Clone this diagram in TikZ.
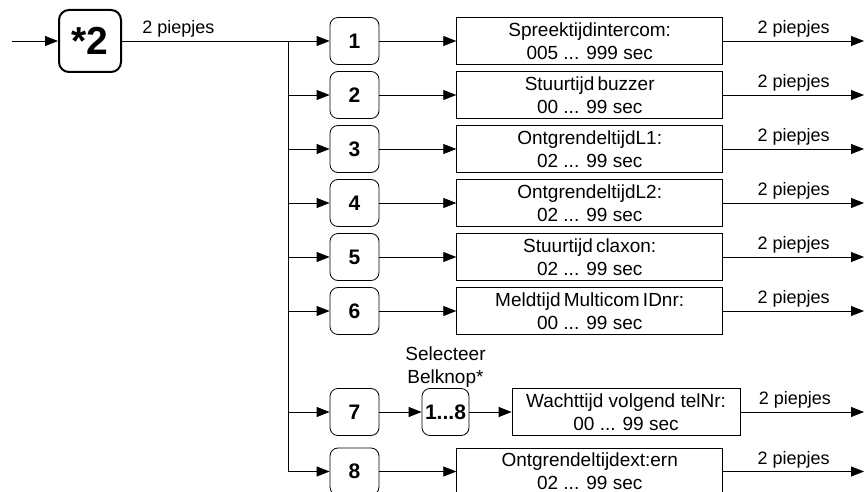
\documentclass[tikz,border=0pt]{standalone}
\usepackage{fontspec}
\setmainfont{Liberation Sans}
\usetikzlibrary{positioning,arrows.meta}

\begin{document}
\begin{tikzpicture}[x=1pt, y=-1pt, line width=0.8pt, >={Triangle[length=13pt,width=10pt]}]
                \tikzset{knop/.style={draw, rounded corners=8pt, minimum width=49pt, minimum height=47pt, inner sep=0pt, font=\fontsize{21}{24}\selectfont\bfseries},
                         tijd/.style={draw, minimum width=266pt, minimum height=47pt, inner sep=0pt, align=center, font=\fontsize{19}{23}\selectfont},
                         piep/.style={above=1pt, inner sep=2pt, font=\fontsize{18}{21}\selectfont}}
                \useasboundingbox (0,0) rectangle (865,492);
                \node[knop, line width=2pt, rounded corners=10pt, minimum width=62pt, minimum height=62pt, font=\fontsize{39}{40}\selectfont\bfseries] (ster) at (90,41) {*2};
                \coordinate (start) at (12,41);
                \coordinate (split) at (288,41);
                \coordinate (rand) at (864,0);
                % menu keys
                \node[knop] (n1) at (354.5,41) {1};
                \node[knop] (n2) at (354.5,95) {2};
                \node[knop] (n3) at (354.5,149) {3};
                \node[knop] (n4) at (354.5,203) {4};
                \node[knop] (n5) at (354.5,257) {5};
                \node[knop] (n6) at (354.5,311) {6};
                \node[knop] (n7) at (354.5,412) {7};
                \node[knop] (n8) at (354.5,471.5) {8};
                \node[knop, minimum width=47pt] (keuze) at (445.5,412) {1...8};
                \node[above=0pt of keuze, align=center, inner sep=0.5pt, font=\fontsize{19}{23}\selectfont] (selecteer) {Selecteer\\Belknop*};
                % settings
                \node[tijd] (t1) at (589.7,41) {Spreektijdintercom:\\005 ... 999 sec};
                \node[tijd] (t2) at (589.7,95) {Stuurtijd\,buzzer\\00 ... 99 sec};
                \node[tijd] (t3) at (589.7,149) {OntgrendeltijdL1:\\02 ... 99 sec};
                \node[tijd] (t4) at (589.7,203) {OntgrendeltijdL2:\\02 ... 99 sec};
                \node[tijd] (t5) at (589.7,257) {Stuurtijd\,claxon:\\02 ... 99 sec};
                \node[tijd] (t6) at (589.7,311) {Meldtijd\,Multicom\,IDnr:\\00 ... 99 sec};
                \node[tijd, minimum width=228pt] (t7) at (626,412) {Wachttijd volgend telNr:\\00 ... 99 sec};
                \node[tijd] (t8) at (589.7,471.5) {Ontgrendeltijdext:ern\\02 ... 99 sec};
                \draw[->] (start) -- (ster);
                \draw (ster) -- node[piep, pos=0.34] {2 piepjes} (split) -- (n8 -| split);
                \path[->]
                    (n1 -| split) edge (n1)
                    (n2 -| split) edge (n2)
                    (n3 -| split) edge (n3)
                    (n4 -| split) edge (n4)
                    (n5 -| split) edge (n5)
                    (n6 -| split) edge (n6)
                    (n7 -| split) edge (n7)
                    (n8 -| split) edge (n8)
                    (n1) edge (t1)
                    (n2) edge (t2)
                    (n3) edge (t3)
                    (n4) edge (t4)
                    (n5) edge (t5)
                    (n6) edge (t6)
                    (n7) edge (keuze)
                    (keuze) edge (t7)
                    (n8) edge (t8)
                    (t1) edge node[piep] {2 piepjes} (t1 -| rand)
                    (t2) edge node[piep] {2 piepjes} (t2 -| rand)
                    (t3) edge node[piep] {2 piepjes} (t3 -| rand)
                    (t4) edge node[piep] {2 piepjes} (t4 -| rand)
                    (t5) edge node[piep] {2 piepjes} (t5 -| rand)
                    (t6) edge node[piep] {2 piepjes} (t6 -| rand)
                    (t7) edge node[piep, pos=0.44] {2 piepjes} (t7 -| rand)
                    (t8) edge node[piep] {2 piepjes} (t8 -| rand);
            \end{tikzpicture}
\end{document}
